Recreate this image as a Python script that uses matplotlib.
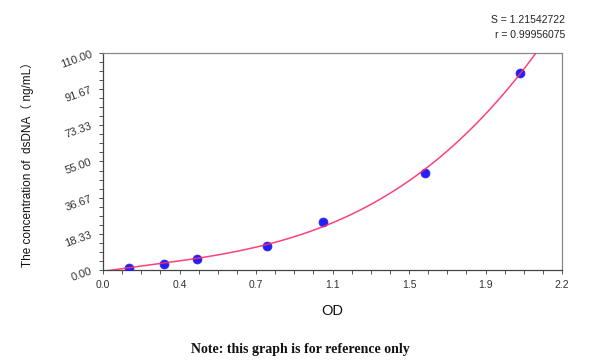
import numpy as np
import matplotlib.pyplot as plt
from matplotlib.ticker import MultipleLocator, FixedLocator

OUT_PNG = "out.png"

# standard points
od = [0.126, 0.294, 0.449, 0.788, 1.053, 1.543, 1.999]
conc = [0.9, 2.9, 5.6, 12.2, 24.5, 49.3, 99.9]

x_ticks = [0.0, 2.2 / 6, 2.2 / 3, 1.1, 2.2 * 2 / 3, 2.2 * 5 / 6, 2.2]
x_labels = ["0.0", "0.4", "0.7", "1.1", "1.5", "1.9", "2.2"]
y_ticks = [0.0, 18.33, 36.67, 55.0, 73.33, 91.67, 110.0]
y_labels = ["0.00", "18.33", "36.67", "55.00", "73.33", "91.67", "110.00"]

S_TEXT = "S = 1.21542722"
R_TEXT = "r = 0.99956075"


def main():
    plt.rcParams["font.family"] = ["Liberation Sans", "Noto Sans CJK SC", "DejaVu Sans"]

    fig = plt.figure(figsize=(6.0, 3.63), dpi=100)
    ax = fig.add_axes([0.1717, 0.2562, 0.765, 0.598])

    # fitted standard curve (cubic through the standards)
    coef = np.polyfit(np.r_[0.0, od], np.r_[0.0, conc], 3)
    xs = np.linspace(0.0, 2.2, 400)
    ys = np.polyval(coef, xs)

    ax.scatter(od, conc, s=42, color="#1f1fff", edgecolors="#3a2bd0",
               linewidths=0.5, zorder=3)
    ax.plot(xs, ys, color="#ff2d6a", lw=1.1, zorder=4, alpha=0.9)

    ax.set_xlim(0, 2.2)
    ax.set_ylim(0, 110)

    ax.xaxis.set_major_locator(FixedLocator(x_ticks))
    ax.set_xticklabels(x_labels)
    ax.xaxis.set_minor_locator(MultipleLocator(2.2 / 24))
    ax.yaxis.set_major_locator(FixedLocator(y_ticks))
    ax.set_yticklabels(y_labels, rotation=20)
    ax.yaxis.set_minor_locator(MultipleLocator(110 / 24))

    ax.tick_params(which="both", direction="out", length=3, width=0.7,
                   colors="#555555", labelsize=7.5, labelcolor="#333333")
    ax.tick_params(axis="x", pad=4)
    ax.tick_params(axis="y", pad=4, labelsize=8)

    for name in ["left", "bottom"]:
        ax.spines[name].set_color("#444444")
        ax.spines[name].set_linewidth(0.9)
    for name in ["top", "right"]:
        ax.spines[name].set_color("#888888")
        ax.spines[name].set_linewidth(0.9)

    ax.set_xlabel("OD", fontsize=10.5, labelpad=10, color="#111111")
    ax.set_ylabel("The concentration of  dsDNA\uff08 ng/mL\uff09", fontsize=8.5,
                  labelpad=18, color="#111111")

    fig.text(0.9417, 0.945, S_TEXT, ha="right", va="center", fontsize=7.5,
             color="#222222")
    fig.text(0.9417, 0.903, R_TEXT, ha="right", va="center", fontsize=7.5,
             color="#222222")
    fig.text(0.5, 0.036, "Note: this graph is for reference only",
             ha="center", va="center", fontsize=10, fontweight="bold",
             family="Liberation Serif", color="#111111")

    fig.savefig(OUT_PNG, dpi=100)


if __name__ == "__main__":
    main()
